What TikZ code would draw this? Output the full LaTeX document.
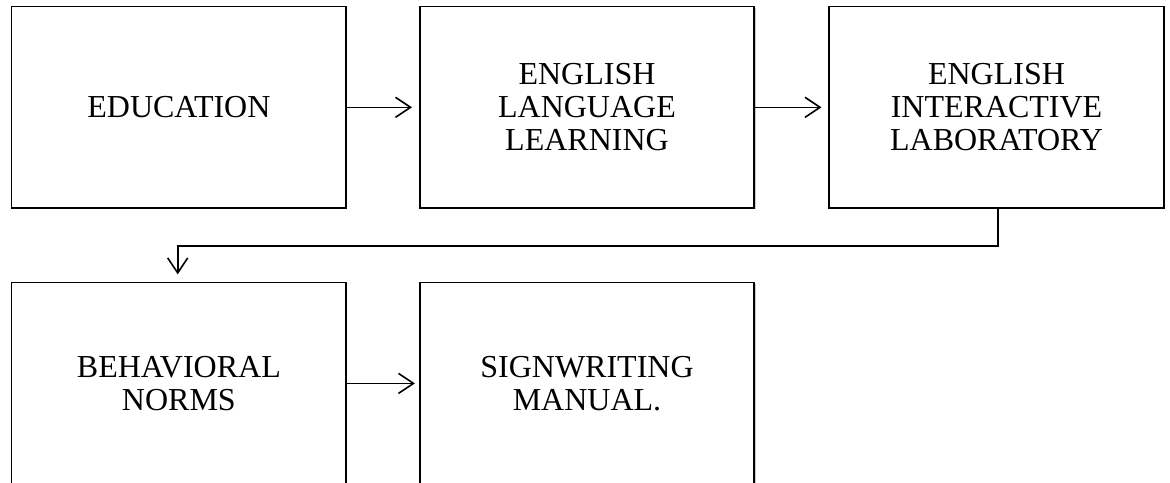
\documentclass[tikz,border=0pt]{standalone}
\usepackage{fontspec}
\setmainfont{Liberation Serif}
\usetikzlibrary{arrows.meta,shadows}
\begin{document}
\begin{tikzpicture}[x=1pt,y=-1pt,
  stagebox/.style={draw, line width=1.6pt, fill=white, inner sep=0pt,
    minimum width=334.5pt, minimum height=201.5pt, align=center,
    font=\fontsize{32}{33}\selectfont,
    drop shadow={shadow xshift=1.3pt, shadow yshift=-1.3pt, opacity=0.35, fill=black!60}},
  flow/.style={line width=1.6pt,
    -{Straight Barb[length=15pt, width=20pt, line width=1.6pt]}}]
\useasboundingbox (0,0) rectangle (1170,482);
% top row
\node[stagebox] (edu) at (178.9,107.3) {EDUCATION};
\node[stagebox] (ell) at (587,107.3) {ENGLISH\\LANGUAGE\\LEARNING};
\node[stagebox] (eil) at (996.5,107.3) {ENGLISH\\INTERACTIVE\\LABORATORY};
% bottom row
\node[stagebox] (bn) at (178.9,383.4) {BEHAVIORAL\\NORMS};
\node[stagebox] (sm) at (587,383.4) {SIGNWRITING\\MANUAL.};
% connectors
\draw[flow, shorten >=7pt] (edu.east) -- (ell.west);
\draw[flow, shorten >=7pt] (ell.east) -- (eil.west);
\draw[flow, shorten >=4pt] (bn.east) -- (sm.west);
\coordinate (turnR) at ([xshift=1.5pt]eil.south |- 0,245.7);
\coordinate (turnL) at ([xshift=-1.2pt]bn.north |- 0,245.7);
\draw[flow, shorten >=7.5pt] ([xshift=1.5pt]eil.south) -- (turnR) -- (turnL) -- ([xshift=-1.2pt]bn.north);
\end{tikzpicture}
\end{document}
